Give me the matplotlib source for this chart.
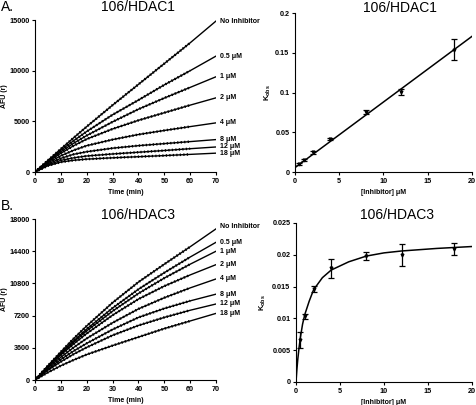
import numpy as np
import matplotlib
matplotlib.use("Agg")
from matplotlib import pyplot as plt

plt.rcParams['font.family'] = ['Liberation Sans', 'DejaVu Sans']

# 数据: 进程曲线 (AFU vs time)
time_min = [0, 5, 10, 15, 20, 30, 40, 50, 60, 70]
curve_labels = ["No Inhibitor", "0.5 \u03bcM", "1 \u03bcM", "2 \u03bcM", "4 \u03bcM", "8 \u03bcM", "12 \u03bcM", "18 \u03bcM"]

hdac1_afu = [
    [0, 1150, 2280, 3390, 4480, 6600, 8650, 10700, 12750, 14900],
    [0, 1100, 2150, 3100, 4000, 5650, 7100, 8600, 10000, 11440],
    [0, 1050, 2000, 2850, 3600, 4950, 6200, 7300, 8350, 9400],
    [0, 1000, 1850, 2600, 3250, 4250, 5100, 5850, 6600, 7320],
    [0, 900, 1600, 2150, 2600, 3200, 3700, 4100, 4480, 4850],
    [0, 800, 1350, 1750, 2000, 2350, 2600, 2800, 3000, 3200],
    [0, 700, 1150, 1400, 1580, 1780, 1950, 2120, 2300, 2470],
    [0, 620, 980, 1160, 1270, 1400, 1510, 1620, 1740, 1860],
]
hdac3_afu = [
    [0, 1600, 3150, 4650, 6050, 8650, 10950, 12950, 14900, 16900],
    [0, 1550, 3000, 4400, 5700, 8050, 10150, 12000, 13750, 15400],
    [0, 1500, 2900, 4250, 5500, 7700, 9680, 11400, 12950, 14400],
    [0, 1450, 2800, 4050, 5200, 7250, 9050, 10500, 11750, 12900],
    [0, 1350, 2550, 3650, 4650, 6400, 7950, 9200, 10300, 11300],
    [0, 1200, 2300, 3250, 4100, 5650, 7000, 8000, 8850, 9600],
    [0, 1100, 2050, 2900, 3650, 5000, 6100, 7000, 7800, 8500],
    [0, 850, 1600, 2250, 2850, 3850, 4800, 5750, 6600, 7450],
]

# kobs vs [Inhibitor]
inhib_um = [0.5, 1, 2, 4, 8, 12, 18]
kobs_hdac1 = [0.010, 0.015, 0.0247, 0.0415, 0.0755, 0.1006, 0.154]
kobs_hdac1_err = [0.001, 0.0012, 0.0015, 0.0015, 0.002, 0.004, 0.0135]
fit1_x = [0, 20]
fit1_y = [0.0055, 0.1706]

kobs_hdac3 = [0.0066, 0.0103, 0.0146, 0.0179, 0.0198, 0.0200, 0.0209]
kobs_hdac3_err = [0.0013, 0.0004, 0.0005, 0.0015, 0.0006, 0.0017, 0.001]
fit3_x = [0, 0.1, 0.2, 0.35, 0.5, 0.75, 1, 1.5, 2, 3, 4, 6, 8, 10, 12, 16, 20]
fit3_y = [0, 0.0019, 0.0035, 0.0054, 0.0070, 0.0091, 0.0106, 0.0127, 0.0145,
          0.0164, 0.0176, 0.0189, 0.0198, 0.0203, 0.0206, 0.0210, 0.0213]


def style_ax(ax):
    for s in ['top', 'right']:
        ax.spines[s].set_visible(False)
    for s in ['left', 'bottom']:
        ax.spines[s].set_linewidth(0.8)
    ax.tick_params(direction='out', length=2.5, width=0.8, labelsize=5.2, pad=1.5)
    for lab in ax.get_xticklabels() + ax.get_yticklabels():
        lab.set_fontweight('bold')


def progress_panel(ax, curves, ymax, yticks, top_offset):
    t = np.array(time_min)
    for i, (vals, lab) in enumerate(zip(curves, curve_labels)):
        v = np.array(vals)
        # 数据点 (0-60 min)
        ax.plot(t[t <= 60], v[t <= 60], color='black', lw=1.8, ls=(0, (0.5, 0.9)), zorder=2)
        # 拟合曲线
        ax.plot(t, v, color='black', lw=1.0, zorder=3)
        dy = top_offset if i == 0 else 0
        ax.annotate(lab, xy=(70, v[-1]), xytext=(3, dy), textcoords='offset points',
                    fontsize=5, fontweight='bold', va='center', ha='left', annotation_clip=False)
    ax.set_xlim(0, 70)
    ax.set_ylim(0, ymax)
    ax.set_xticks(range(0, 71, 10))
    ax.set_yticks(yticks)
    ax.set_xlabel("Time (min)", fontsize=5, fontweight='bold', labelpad=3)
    ax.set_ylabel("AFU (r)", fontsize=5, fontweight='bold')
    ax.yaxis.set_label_coords(-0.148, 0.5)
    style_ax(ax)


def kobs_panel(ax, y, yerr, fx, fy, ymax, yticks, yticklabels, ylab_x):
    ax.plot(fx, fy, color='black', lw=1.1, zorder=2)
    ax.errorbar(inhib_um, y, yerr=yerr, fmt='v', ms=2, color='black', ecolor='black',
                elinewidth=0.9, capsize=2, capthick=0.9, zorder=3)
    ax.set_xlim(0, 20)
    ax.set_ylim(0, ymax)
    ax.set_xticks([0, 5, 10, 15, 20])
    ax.set_yticks(yticks)
    ax.set_yticklabels(yticklabels)
    ax.set_xlabel("[Inhibitor] \u03bcM", fontsize=5, fontweight='bold', labelpad=3)
    ax.set_ylabel(r"K$_{\mathregular{obs}}$", fontsize=5.5, fontweight='bold')
    ax.yaxis.set_label_coords(ylab_x, 0.5)
    style_ax(ax)


fig = plt.figure(figsize=(4.77, 4.05), dpi=100)

ax1 = fig.add_axes([0.0734, 0.5753, 0.3795, 0.3753])
progress_panel(ax1, hdac1_afu, 15000, [0, 5000, 10000, 15000], 0)

ax2 = fig.add_axes([0.6184, 0.5753, 0.3710, 0.3926])
kobs_panel(ax2, kobs_hdac1, kobs_hdac1_err, fit1_x, fit1_y, 0.2,
           [0, 0.05, 0.1, 0.15, 0.2], ["0", "0.05", "0.1", "0.15", "0.2"], -0.125)

ax3 = fig.add_axes([0.0734, 0.0617, 0.3795, 0.3975])
progress_panel(ax3, hdac3_afu, 18000, [0, 3600, 7200, 10800, 14400, 18000], 2)

ax4 = fig.add_axes([0.6205, 0.0568, 0.3690, 0.3926])
kobs_panel(ax4, kobs_hdac3, kobs_hdac3_err, fit3_x, fit3_y, 0.025,
           [0, 0.005, 0.01, 0.015, 0.02, 0.025],
           ["0", "0.005", "0.01", "0.015", "0.02", "0.025"], -0.16)

# 标题
fig.text(0.002, 1 - 7 / 405, "A.", fontsize=10, va='center', ha='left')
fig.text(0.002, 1 - 206 / 405, "B.", fontsize=10, va='center', ha='left')
fig.text(138 / 477, 1 - 7 / 405, "106/HDAC1", fontsize=10, va='center', ha='center')
fig.text(400 / 477, 1 - 8 / 405, "106/HDAC1", fontsize=10, va='center', ha='center')
fig.text(138 / 477, 1 - 215 / 405, "106/HDAC3", fontsize=10, va='center', ha='center')
fig.text(397 / 477, 1 - 215 / 405, "106/HDAC3", fontsize=10, va='center', ha='center')

fig.savefig("out.png", dpi=100)
